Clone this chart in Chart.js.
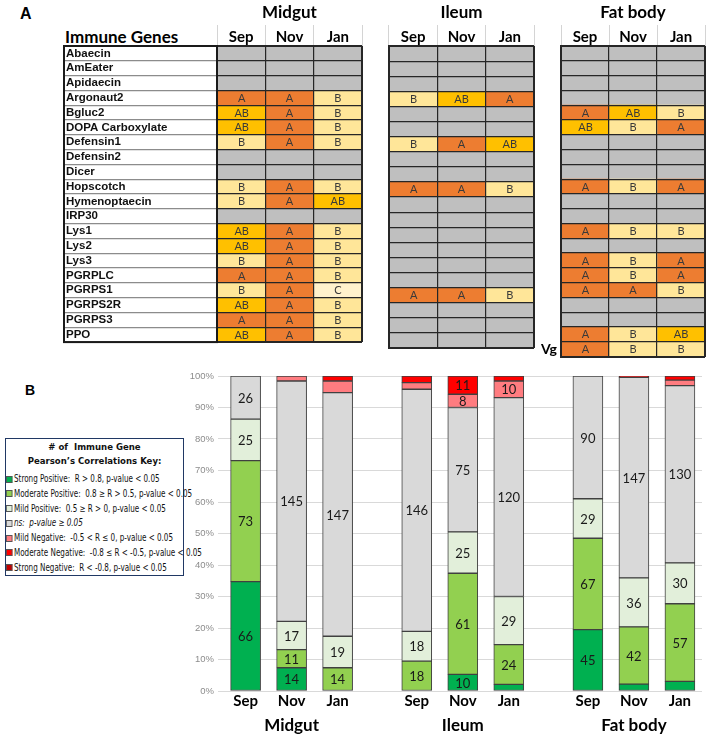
<!DOCTYPE html>
<html>
<head>
<meta charset="utf-8">
<title>Immune genes</title>
<script src="https://cdn.jsdelivr.net/npm/chart.js@4.4.1/dist/chart.umd.min.js"></script>
<style>
  body { margin: 0; width: 708px; height: 740px; position: relative; overflow: hidden; background: #fff; font-family: Lato, "Liberation Sans", sans-serif; }
  canvas, .lbl { position: absolute; }
  #pa { left: 20px; top: 5px; font: bold 16px "Liberation Sans", Arial, sans-serif; }
  #pb { left: 25px; top: 382px; font: bold 14px "Liberation Sans", Arial, sans-serif; }
  #genesHead { left: 65px; top: 26px; font: bold 17px Lato, sans-serif; }
  #key { position: absolute; left: 5px; top: 438px; width: 177px; height: 136px; border: 1.5px solid #203864;
         font: 9.5px "Liberation Sans Narrow", "DejaVu Sans Condensed", sans-serif; color: #111; white-space: nowrap; }
  #key .kt { text-align: center; font-weight: bold; line-height: 14px; padding-top: 1px; }
  #key .items { margin-top: 4px; transform: scaleX(0.8); transform-origin: 0 0; font-size: 10px; }
  #key .it { line-height: 14.8px; height: 14.8px; }
  #key .sw { display: inline-block; width: 6px; height: 5px; border: 1px solid #555; margin-right: 2px; vertical-align: -0.5px; }
</style>
</head>
<body>
<div class="lbl" id="pa">A</div>
<div class="lbl" id="genesHead">Immune Genes</div>
<canvas id="midgut" width="308" height="352" style="left:58px;top:0"></canvas>
<canvas id="ileum" width="157" height="352" style="left:381px;top:0"></canvas>
<canvas id="fatbody" width="182" height="369" style="left:526px;top:0"></canvas>
<div class="lbl" id="pb">B</div>
<div id="key"><div class="kt"># of&nbsp; Immune Gene<br>Pearson’s Correlations Key:</div><div class="items" id="keyItems"></div></div>
<canvas id="corr" width="528" height="374" style="left:180px;top:366px"></canvas>
<script>
// ---- panel A: significance letters per gene (blank = no change) ----
const genes = ['Abaecin','AmEater','Apidaecin','Argonaut2','Bgluc2','DOPA Carboxylate','Defensin1','Defensin2','Dicer','Hopscotch',
  'Hymenoptaecin','IRP30','Lys1','Lys2','Lys3','PGRPLC','PGRPS1','PGRPS2R','PGRPS3','PPO'];
const fatBodyGenes = genes.concat(['Vg']);
const months = ['Sep','Nov','Jan'];

const midgutSep = ['','','','A','AB','AB','B','','','B','B','','AB','AB','B','A','B','AB','A','AB'];
const midgutNov = ['','','','A','A','A','A','','','A','A','','A','A','A','A','A','A','A','A'];
const midgutJan = ['','','','B','B','B','B','','','B','AB','','B','B','B','B','C','B','B','B'];
const ileumSep  = ['','','','B','','','B','','','A','','','','','','','A','','',''];
const ileumNov  = ['','','','AB','','','A','','','A','','','','','','','A','','',''];
const ileumJan  = ['','','','A','','','AB','','','B','','','','','','','B','','',''];
const fatSep    = ['','','','','A','AB','','','','A','','','A','','A','A','A','','','A','A'];
const fatNov    = ['','','','','AB','B','','','','B','','','B','','B','B','A','','','B','B'];
const fatJan    = ['','','','','B','A','','','','A','','','B','','A','A','B','','','AB','B'];

// ---- panel B: number of correlations per class, bars = tissue x month ----
const tissues = ['Midgut','Ileum','Fat body'];
const classNames = ['Strong Positive','Moderate Positive','Mild Positive','ns','Mild Negative','Moderate Negative','Strong Negative'];
const classRules = ['R  > 0.8, p-value < 0.05','0.8 ≥ R > 0.5, p-value < 0.05','0.5 ≥ R > 0, p-value < 0.05','p-value ≥ 0.05',
  '-0.5 < R ≤ 0, p-value < 0.05','-0.8 ≤ R < -0.5, p-value < 0.05','R  < -0.8, p-value < 0.05'];
const strongPos = [66, 14, 0, 0, 10, 4, 45, 5, 7];
const moderatePos = [73, 11, 14, 18, 61, 24, 67, 42, 57];
const mildPos = [25, 17, 19, 18, 25, 29, 29, 36, 30];
const notSig = [26, 145, 147, 146, 75, 120, 90, 147, 130];
const mildNeg = [0, 3, 7, 4, 8, 10, 0, 0, 4];
const moderateNeg = [0, 0, 3, 4, 11, 3, 0, 0, 3];
const strongNeg = [0, 0, 0, 0, 0, 0, 0, 1, 0];

const gradeColor = { A: '#ED7D31', AB: '#FFC000', B: '#FFE699', C: '#FFF2CC' };
const noChange = '#BFBFBF';
const classColors = ['#00B050','#92D050','#E2EFDA','#D9D9D9','#FF7C80','#FF0000','#C00000'];

const gradeText = {
  id: 'gradeText',
  afterDatasetsDraw(chart) {
    const c = chart.ctx;
    c.save();
    c.font = '11px Lato, sans-serif';
    c.fillStyle = '#3a3a3a';
    c.textAlign = 'center';
    c.textBaseline = 'middle';
    chart.data.datasets.forEach((d, i) => {
      chart.getDatasetMeta(i).data.forEach((el, j) => {
        if (d.grades[j]) c.fillText(d.grades[j], (el.x + el.base) / 2, el.y + 0.5);
      });
    });
    c.restore();
  }
};

const labelBox = {
  id: 'labelBox',
  afterDraw(chart) {
    const s = chart.scales.y, a = chart.chartArea, c = chart.ctx;
    c.save();
    c.strokeStyle = '#1a1a1a';
    c.lineWidth = 2;
    c.strokeRect(s.left - 2, a.top, a.left - s.left + 2, a.bottom - a.top);
    c.restore();
  }
};

function heatChart(id, title, rows, cols, yOpts, padding, plugins) {
  const datasets = cols.map((letters, i) => ({
    label: months[i],
    xAxisID: 'x',
    data: letters.map(() => 1),
    grades: letters,
    backgroundColor: letters.map(g => gradeColor[g] || noChange),
    borderWidth: 0,
    barPercentage: 1,
    categoryPercentage: 1
  }));
  return new Chart(document.getElementById(id), {
    type: 'bar',
    data: { labels: rows, datasets: datasets },
    plugins: [gradeText].concat(plugins || []),
    options: {
      indexAxis: 'y',
      responsive: false,
      animation: false,
      layout: { padding: padding },
      plugins: { legend: { display: false }, tooltip: { enabled: false } },
      scales: {
        x: {
          type: 'linear', stacked: true, min: 0, max: 3, position: 'bottom',
          ticks: { display: false, stepSize: 1 },
          grid: { color: '#262626', drawTicks: false, z: 1,
                  lineWidth: c => (c.tick && (c.tick.value === 0 || c.tick.value === 3)) ? 2 : 1.2 },
          border: { display: false }
        },
        x2: {
          type: 'category', axis: 'x', labels: months, position: 'top', offset: true,
          ticks: { color: '#000', padding: -21, font: { family: 'Lato', weight: 'bold', size: 15 } },
          grid: { offset: true, drawOnChartArea: false, tickLength: 21, color: '#d4d4d4', lineWidth: 1 },
          border: { display: false },
          title: { display: true, text: title, color: '#000', padding: { top: 2, bottom: 0 },
                   font: { family: 'Lato', weight: 'bold', size: 17 } },
          afterFit: s => { s.height = 46; }
        },
        y: Object.assign({
          type: 'category', stacked: true, offset: true,
          border: { display: true, color: '#262626', width: 2, z: 1 }
        }, yOpts)
      }
    }
  });
}

const rowLineWidth = c => (c.index === undefined || c.index === 0) ? 2 : 1.2;

heatChart('midgut', 'Midgut', genes, [midgutSep, midgutNov, midgutJan], {
  ticks: { crossAlign: 'far', autoSkip: false, color: '#111',
           font: { family: '"Liberation Sans", Arial, sans-serif', weight: 'bold', size: 11.5 } },
  grid: { offset: true, color: '#262626', tickColor: '#8c8c8c', tickLength: 153, lineWidth: rowLineWidth, z: 1 },
  afterFit: s => { s.width = 151; }
}, { left: 8, right: 4, top: 0, bottom: 4 }, [labelBox]);

heatChart('ileum', 'Ileum', genes, [ileumSep, ileumNov, ileumJan], {
  ticks: { display: false },
  grid: { offset: true, color: '#262626', drawTicks: false, lineWidth: rowLineWidth, z: 1 }
}, { left: 8, right: 4, top: 0, bottom: 4 });

heatChart('fatbody', 'Fat body', fatBodyGenes, [fatSep, fatNov, fatJan], {
  ticks: { autoSkip: false, padding: 4, color: '#000', callback: (v, i) => fatBodyGenes[i] === 'Vg' ? 'Vg' : '',
           font: { family: 'Lato', weight: 'bold', size: 14 } },
  grid: { offset: true, color: '#262626', drawTicks: false, lineWidth: rowLineWidth, z: 1 },
  afterFit: s => { s.width = 31; }
}, { left: 4, right: 3, top: 0, bottom: 4 });

// ---- panel B ----
const keyItems = document.getElementById('keyItems');
classNames.forEach((name, i) => {
  const row = document.createElement('div');
  row.className = 'it';
  const sw = document.createElement('span');
  sw.className = 'sw';
  sw.style.background = classColors[i];
  row.appendChild(sw);
  const txt = document.createElement(name === 'ns' ? 'i' : 'span');
  txt.textContent = name + ':\u00a0 ' + classRules[i];
  row.appendChild(txt);
  keyItems.appendChild(row);
});

const counts = [strongPos, moderatePos, mildPos, notSig, mildNeg, moderateNeg, strongNeg];
const totals = strongPos.map((_, b) => counts.reduce((s, arr) => s + arr[b], 0));
const GROUP_STEP = 3.72;
const barX = strongPos.map((_, b) => Math.floor(b / 3) * GROUP_STEP + (b % 3));

const corrDatasets = counts.map((arr, k) => ({
  label: classNames[k],
  counts: arr,
  data: arr.map((v, b) => ({ x: barX[b], y: v ? v / totals[b] * 100 : null })),
  backgroundColor: classColors[k],
  borderColor: '#404040',
  borderWidth: 1,
  borderSkipped: false,
  barThickness: 30
}));

const countText = {
  id: 'countText',
  afterDatasetsDraw(chart) {
    const c = chart.ctx;
    c.save();
    c.font = '13px Lato, sans-serif';
    c.fillStyle = '#1a1a1a';
    c.textAlign = 'center';
    c.textBaseline = 'middle';
    chart.data.datasets.forEach((d, i) => {
      chart.getDatasetMeta(i).data.forEach((el, j) => {
        if (d.counts[j] >= 8) c.fillText(d.counts[j], el.x, (el.y + el.base) / 2 + 1);
      });
    });
    // tissue names under the month labels
    const xs = chart.scales.x;
    c.font = 'bold 17px Lato, sans-serif';
    c.fillStyle = '#000';
    tissues.forEach((t, g) => {
      const mid = xs.getPixelForValue(barX[g * 3 + 1]);
      c.fillText(t, mid, chart.chartArea.bottom + 35);
    });
    c.restore();
  }
};

new Chart(document.getElementById('corr'), {
  type: 'bar',
  data: { datasets: corrDatasets },
  plugins: [countText],
  options: {
    responsive: false,
    animation: false,
    layout: { padding: { top: 10, right: 6, left: 0, bottom: 0 } },
    plugins: { legend: { display: false }, tooltip: { enabled: false } },
    scales: {
      x: {
        type: 'linear', stacked: true, offset: false, min: -0.6, max: 9.92,
        afterBuildTicks: s => { s.ticks = barX.map(v => ({ value: v })); },
        ticks: { autoSkip: false, maxRotation: 0, padding: 1, color: '#000',
                 callback: (v, i) => months[i % 3],
                 font: { family: 'Lato', weight: 'bold', size: 15 } },
        grid: { display: false, drawTicks: false },
        border: { display: false },
        afterFit: s => { s.height = 49; }
      },
      y: {
        stacked: true, min: 0, max: 100,
        ticks: { stepSize: 10, padding: 4, color: '#8c8c8c', callback: v => v + '%',
                 font: { family: '"Liberation Sans", Arial, sans-serif', size: 9.5 } },
        grid: { color: '#d9d9d9', drawTicks: false },
        border: { display: false },
        afterFit: s => { s.width = 38; }
      }
    }
  }
});
</script>
</body>
</html>
